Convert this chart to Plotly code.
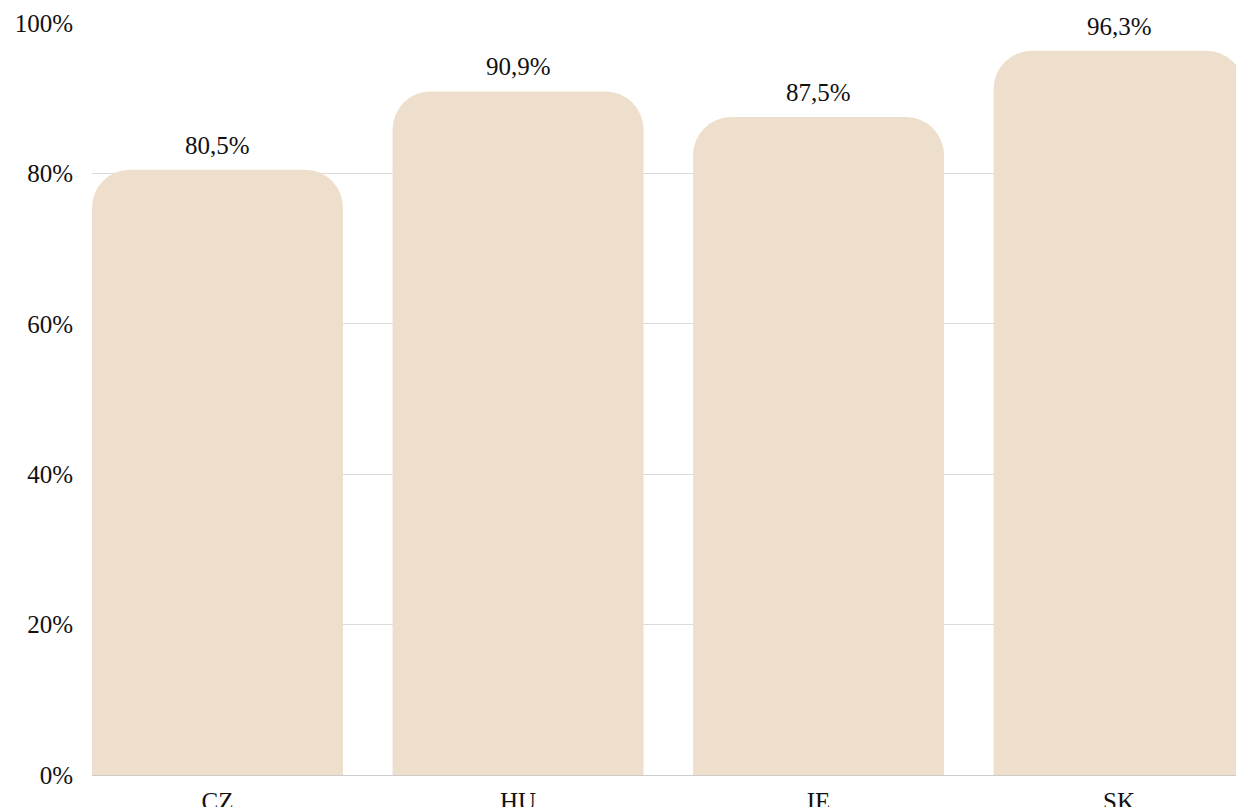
import plotly.graph_objects as go

categories = ["CZ", "HU", "IE", "SK"]
values = [80.5, 90.9, 87.5, 96.3]
value_labels = ["80,5%", "90,9%", "87,5%", "96,3%"]
y_ticks = [0, 20, 40, 60, 80, 100]
y_tick_labels = ["0%", "20%", "40%", "60%", "80%", "100%"]

FONT = "Liberation Serif"
FS = 25

fig = go.Figure(
    go.Bar(
        x=categories,
        y=values,
        marker=dict(color="#EDDFCC", line=dict(width=0)),
        width=0.835,
        hoverinfo="skip",
    )
)

for c, v, t in zip(categories, values, value_labels):
    fig.add_annotation(
        x=c, y=v, text=t, showarrow=False, yanchor="bottom", yshift=9,
        font=dict(family=FONT, size=FS, color="#111111"),
    )

fig.update_layout(
    width=1236,
    height=807,
    margin=dict(l=92, r=0, t=23, b=32),
    plot_bgcolor="white",
    paper_bgcolor="white",
    barcornerradius=38,
    showlegend=False,
    font=dict(family=FONT, size=FS, color="#111111"),
    xaxis=dict(
        range=[-0.4177, 3.389],
        automargin=False,
        showgrid=False,
        showline=True,
        linecolor="#cccccc",
        linewidth=1,
        ticks="",
        ticklabelstandoff=4,
        tickfont=dict(family=FONT, size=FS, color="#111111"),
    ),
    yaxis=dict(
        range=[0, 100],
        automargin=False,
        tickvals=y_ticks,
        ticktext=y_tick_labels,
        showgrid=True,
        gridcolor="#dadada",
        gridwidth=1,
        zeroline=False,
        ticks="",
        ticklabelstandoff=18,
        tickfont=dict(family=FONT, size=FS, color="#111111"),
    ),
)

fig.write_html(
    "out.html",
    config={"displayModeBar": False},
    post_script="document.body.style.margin='0';document.body.style.overflow='hidden';",
)
